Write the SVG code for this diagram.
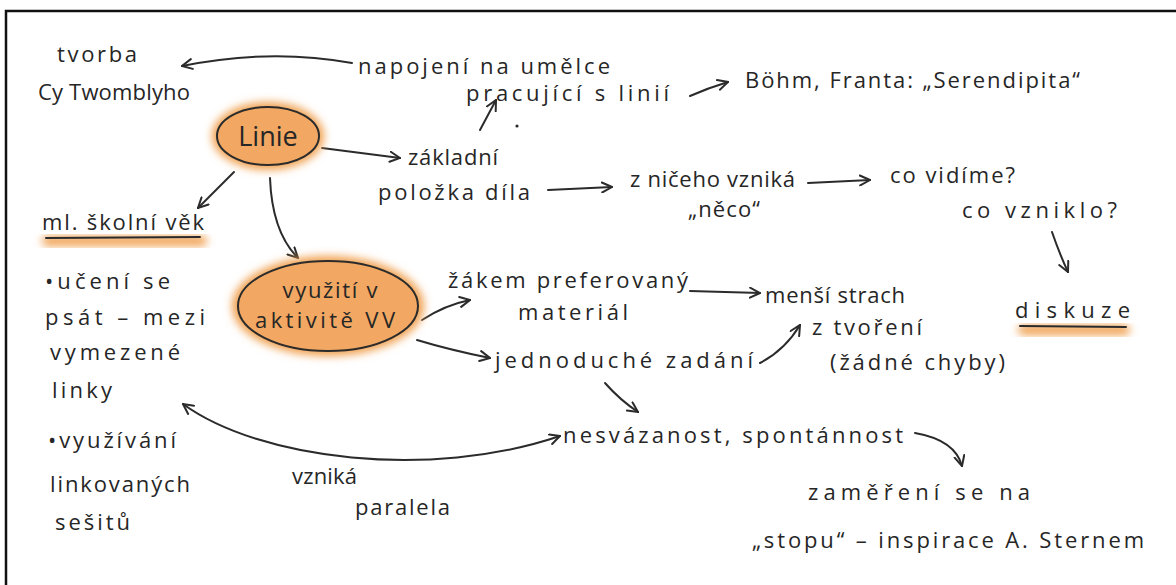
<svg xmlns="http://www.w3.org/2000/svg" width="1176" height="585" viewBox="0 0 1176 585">
<style>
text{font-family:"Open Sans","Liberation Sans",sans-serif;font-size:22px;fill:#262626}
.c{stroke:#2b2b2b;stroke-width:2;fill:none;stroke-linecap:round}
.m{text-anchor:middle}
</style>
<defs>
<marker id="ah" viewBox="0 0 12 12" refX="11" refY="6" markerWidth="12" markerHeight="12" markerUnits="userSpaceOnUse" orient="auto-start-reverse">
<path d="M1,1 L11,6 L1,11" fill="none" stroke="#2b2b2b" stroke-width="2" stroke-linecap="round"/>
</marker>
<filter id="blur" x="-20%" y="-20%" width="140%" height="140%"><feGaussianBlur stdDeviation="4"/></filter>
</defs>
<rect width="1176" height="585" fill="#fff"/>
<rect x="6" y="11" width="1200" height="620" fill="none" stroke="#111" stroke-width="2.5"/>

<g id="connectors">
<path class="c" d="M352,63 Q270,48 182,66" marker-end="url(#ah)"/>
<path class="c" d="M690,96 Q708,88 728,82" marker-end="url(#ah)"/>
<path class="c" d="M322,148 L400,158" marker-end="url(#ah)"/>
<path class="c" d="M480,130 L496,100" marker-end="url(#ah)"/>
<path class="c" d="M548,190 L612,187" marker-end="url(#ah)"/>
<path class="c" d="M808,183 L870,180" marker-end="url(#ah)"/>
<path class="c" d="M1052,232 Q1060,255 1068,272" marker-end="url(#ah)"/>
<path class="c" d="M234,172 L198,208" marker-end="url(#ah)"/>
<path class="c" d="M270,178 Q272,232 298,258" marker-end="url(#ah)"/>
<path class="c" d="M422,320 Q445,305 470,300" marker-end="url(#ah)"/>
<path class="c" d="M417,340 Q450,350 490,358" marker-end="url(#ah)"/>
<path class="c" d="M690,291 L760,293" marker-end="url(#ah)"/>
<path class="c" d="M760,363 Q785,350 800,325" marker-end="url(#ah)"/>
<path class="c" d="M605,383 Q620,400 638,412" marker-end="url(#ah)"/>
<path class="c" d="M915,433 Q955,440 962,466" marker-end="url(#ah)"/>
<path class="c" d="M183,404 C260,460 430,480 560,436" marker-start="url(#ah)" marker-end="url(#ah)"/>
<circle cx="517" cy="126" r="1.6" fill="#2b2b2b"/>
</g>

<g id="tvorba"><text x="57" y="62" textLength="80">tvorba</text><text x="38" y="100" textLength="152">Cy Twomblyho</text></g>
<g id="napojeni"><text x="358" y="74" textLength="252">napojení na umělce</text><text x="466" y="101" textLength="203">pracující s linií</text></g>
<g id="bohm"><text x="745" y="88" textLength="335">Böhm, Franta: „Serendipita“</text></g>

<g id="linie">
<ellipse cx="268" cy="136" rx="56" ry="34" fill="#f0a050" filter="url(#blur)"/>
<ellipse cx="268" cy="136" rx="51" ry="29" fill="#f2a862" stroke="#2b2b2b" stroke-width="2"/>
<text x="268" y="146" class="m" style="font-size:27px">Linie</text>
</g>

<g id="zakladni"><text x="408" y="165" textLength="90">základní</text><text x="378" y="200" textLength="152">položka díla</text></g>
<g id="znicheho"><text x="630" y="187" textLength="165">z ničeho vzniká</text><text x="688" y="217" textLength="72">„něco“</text></g>
<g id="covidime"><text x="890" y="183" textLength="125">co vidíme?</text><text x="962" y="218" textLength="155">co vzniklo?</text></g>

<g id="diskuze">
<rect x="1018" y="325" width="112" height="10" rx="5" fill="#f0a050" filter="url(#blur)"/>
<line x1="1020" y1="326" x2="1126" y2="327" class="c"/>
<text x="1015" y="318" textLength="115">diskuze</text>
</g>

<g id="mlskolni">
<rect x="42" y="236" width="165" height="10" rx="5" fill="#f0a050" filter="url(#blur)"/>
<line x1="46" y1="238" x2="200" y2="237" class="c"/>
<text x="42" y="230" textLength="162">ml. školní věk</text>
</g>
<g id="ucenise">
<text x="45" y="289" textLength="125">•učení se</text>
<text x="45" y="325" textLength="160">psát – mezi</text>
<text x="50" y="360" textLength="130">vymezené</text>
<text x="52" y="398" textLength="60">linky</text>
<text x="48" y="448" textLength="128">•využívání</text>
<text x="50" y="492" textLength="140">linkovaných</text>
<text x="55" y="530" textLength="75">sešitů</text>
</g>

<g id="vyuziti">
<ellipse cx="328" cy="306" rx="96" ry="50" fill="#f0a050" filter="url(#blur)"/>
<ellipse cx="328" cy="306" rx="90" ry="45" fill="#f2a862" stroke="#2b2b2b" stroke-width="2"/>
<text x="330" y="298" class="m" textLength="95">využití v</text>
<text x="325" y="328" class="m" textLength="140">aktivitě VV</text>
</g>

<g id="zakem"><text x="448" y="288" textLength="240">žákem preferovaný</text><text x="518" y="320" textLength="110">materiál</text></g>
<g id="mensi"><text x="765" y="303" textLength="140">menší strach</text><text x="812" y="335" textLength="110">z tvoření</text><text x="830" y="370" textLength="175">(žádné chyby)</text></g>
<g id="jednoduche"><text x="495" y="368" textLength="258">jednoduché zadání</text></g>
<g id="nesvazanost"><text x="563" y="443" textLength="340">nesvázanost, spontánnost</text></g>
<g id="paralela"><text x="292" y="484" textLength="65">vzniká</text><text x="355" y="515" textLength="95">paralela</text></g>
<g id="zamereni"><text x="808" y="500" textLength="222">zaměření se na</text><text x="752" y="548" textLength="392">„stopu“ – inspirace A. Sternem</text></g>
</svg>
